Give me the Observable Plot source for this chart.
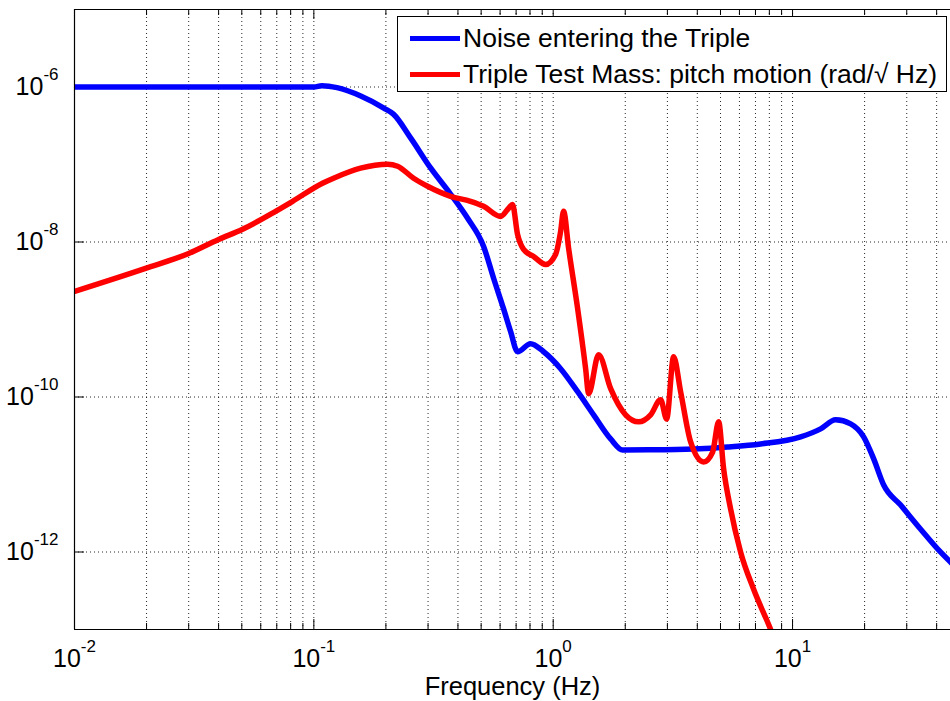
<!DOCTYPE html>
<html>
<head>
<meta charset="utf-8">
<script src="https://cdn.jsdelivr.net/npm/d3@7"></script>
<script src="https://cdn.jsdelivr.net/npm/@observablehq/plot@0.6"></script>
<style>
  html, body { margin: 0; padding: 0; background: #fff; }
  #wrap { position: relative; width: 950px; height: 701px; overflow: hidden; font-family: 'Liberation Sans', Arial, sans-serif; }
  #legend { position: absolute; left: 397px; top: 16px; width: 550px; height: 76px; border: 1px solid #000; background: #fff; box-sizing: border-box; }
  .row { position: absolute; left: 0; height: 36px; display: flex; align-items: center; font-size: 26.5px; color: #000; white-space: nowrap; }
  .swatch { display: inline-block; width: 50px; height: 5px; margin-left: 12px; margin-right: 3px; }
</style>
</head>
<body>
<div id="wrap">
  <div id="chart"></div>
  <div id="legend"></div>
</div>
<script>
// ---- data ----
const seriesNames = ["Noise entering the Triple", "Triple Test Mass: pitch motion (rad/\u221A Hz)"];
const seriesColors = ["#0000ff", "#ff0000"];

const blueFreq = [0.01, 0.1, 0.108, 0.125, 0.157, 0.196, 0.215, 0.254, 0.308, 0.373, 0.439, 0.512, 0.564, 0.620, 0.664, 0.710, 0.804, 0.912, 1.074, 1.265, 1.475, 1.738, 1.95, 2.5, 3.862, 5.355, 7.357, 10.81, 13.10, 15.14, 17.49, 19.82, 21.83, 24.03, 28.29, 34.30, 41.58, 46.67];
const blueAmp = [1.0e-6, 1.0e-6, 1.04e-6, 9.8e-7, 7.65e-7, 5.35e-7, 4.47e-7, 2.19e-7, 8.96e-8, 4.13e-8, 2.02e-8, 8.77e-9, 3.38e-9, 1.38e-9, 6.97e-10, 3.84e-10, 4.88e-10, 3.84e-10, 2.32e-10, 1.17e-10, 5.89e-11, 2.88e-11, 2.07e-11, 2.08e-11, 2.14e-11, 2.27e-11, 2.48e-11, 3.06e-11, 3.88e-11, 5.07e-11, 4.50e-11, 3.06e-11, 1.59e-11, 7.31e-12, 4.03e-12, 1.97e-12, 9.94e-13, 6.95e-13];

const redFreq = [0.01, 0.0198, 0.030, 0.040, 0.0504, 0.0692, 0.0815, 0.1087, 0.1209, 0.1567, 0.2032, 0.2238, 0.261, 0.2987, 0.3726, 0.4517, 0.5119, 0.603, 0.6512, 0.676, 0.7097, 0.7521, 0.8282, 0.9297, 1.023, 1.074, 1.105, 1.160, 1.265, 1.366, 1.406, 1.548, 1.738, 2.007, 2.275, 2.553, 2.811, 2.978, 3.185, 3.407, 3.752, 4.251, 4.636, 4.911, 5.153, 5.511, 6.069, 6.877, 8.100, 8.5];
const redAmp = [2.30e-9, 4.56e-9, 7.12e-9, 1.08e-8, 1.46e-8, 2.49e-8, 3.35e-8, 5.73e-8, 6.65e-8, 8.96e-8, 1.01e-7, 9.51e-8, 6.65e-8, 5.24e-8, 3.89e-8, 3.35e-8, 2.89e-8, 2.14e-8, 2.72e-8, 3.04e-8, 1.25e-8, 8.02e-9, 6.51e-9, 5.13e-9, 6.91e-9, 1.37e-8, 2.5e-8, 8.27e-9, 1.38e-9, 2.32e-10, 1.10e-10, 3.51e-10, 1.28e-10, 5.89e-11, 4.78e-11, 5.89e-11, 9.20e-11, 5.22e-11, 3.31e-10, 1.17e-10, 2.63e-11, 1.45e-11, 1.95e-11, 4.78e-11, 1.18e-11, 3.58e-12, 9.94e-13, 3.30e-13, 1.00e-13, 6.8e-14];

const xDomain = [0.01, 45.7];
const yDomain = [1e-13, 1e-5];
const xMajorTicks = [0.01, 0.1, 1, 10];
const xMinorTicks = [0.02, 0.03, 0.04, 0.05, 0.06, 0.07, 0.08, 0.09,
                     0.2, 0.3, 0.4, 0.5, 0.6, 0.7, 0.8, 0.9,
                     2, 3, 4, 5, 6, 7, 8, 9,
                     20, 30, 40];
const yMajorTicks = [1e-12, 1e-10, 1e-8, 1e-6];
const xLabel = "Frequency (Hz)";

// ---- build tables ----
const blueData = blueFreq.map((f, i) => ({f, v: blueAmp[i]}));
const redData = redFreq.map((f, i) => ({f, v: redAmp[i]}));
const xGridTicks = xMajorTicks.slice(1).concat(xMinorTicks);

const W = 950, H = 701, mL = 74, mR = 0, mT = 9, mB = 72;
const plotH = H - mT - mB, plotW = W - mL - mR;
const expFmt = d => "10^" + Math.round(Math.log10(d));
const gridStyle = {stroke: "#000", strokeOpacity: 0.85, strokeWidth: 1, strokeDasharray: "1,3"};

const chart = Plot.plot({
  width: W, height: H,
  marginLeft: mL, marginRight: mR, marginTop: mT, marginBottom: mB,
  style: {fontFamily: "'Liberation Sans', Arial, sans-serif", fontSize: "25px", background: "#fff", color: "#000"},
  x: {type: "log", domain: xDomain},
  y: {type: "log", domain: yDomain},
  marks: [
    Plot.ruleX(xGridTicks, gridStyle),
    Plot.ruleY(yMajorTicks, gridStyle),
    // inward ticks
    Plot.ruleX(xMinorTicks, {insetTop: plotH - 6, stroke: "#000"}),
    Plot.ruleX(xMinorTicks, {insetBottom: plotH - 6, stroke: "#000"}),
    Plot.ruleX(xMajorTicks, {insetTop: plotH - 10, stroke: "#000"}),
    Plot.ruleX(xMajorTicks, {insetBottom: plotH - 10, stroke: "#000"}),
    Plot.ruleY(yMajorTicks, {insetRight: plotW - 10, stroke: "#000"}),
    // series
    Plot.line(blueData, {x: "f", y: "v", stroke: seriesColors[0], strokeWidth: 5.5, clip: true, curve: "monotone-x", strokeLinejoin: "round"}),
    Plot.line(redData, {x: "f", y: "v", stroke: seriesColors[1], strokeWidth: 5.5, clip: true, curve: "monotone-x", strokeLinejoin: "round"}),
    // frame (top, bottom, left)
    Plot.ruleY(yDomain, {stroke: "#000", strokeWidth: 1.2}),
    Plot.ruleX([xDomain[0]], {stroke: "#000", strokeWidth: 1.2}),
    // axes
    Plot.axisX(xMajorTicks, {tickSize: 0, tickPadding: 20, tickFormat: expFmt, fontSize: 25, label: null}),
    Plot.axisY(yMajorTicks, {tickSize: 0, tickPadding: 16, tickFormat: expFmt, fontSize: 25, label: null}),
    Plot.text([xLabel], {text: d => d, frameAnchor: "bottom", dy: 65, fontSize: 25.5})
  ]
});

// superscript exponents in tick labels
chart.querySelectorAll('g[aria-label="x-axis tick label"] text, g[aria-label="y-axis tick label"] text').forEach(t => {
  const s = t.textContent;
  const m = s.match(/^10\^(-?\d+)$/);
  if (!m) return;
  t.textContent = "10";
  const sup = document.createElementNS("http://www.w3.org/2000/svg", "tspan");
  sup.setAttribute("dy", "-15");
  sup.setAttribute("font-size", "17");
  sup.textContent = m[1];
  t.appendChild(sup);
});

document.getElementById("chart").appendChild(chart);

// legend
const legend = document.getElementById("legend");
seriesNames.forEach((name, i) => {
  const row = document.createElement("div");
  row.className = "row";
  row.style.top = (3 + i * 36) + "px";
  const sw = document.createElement("span");
  sw.className = "swatch";
  sw.style.background = seriesColors[i];
  const label = document.createElement("span");
  label.textContent = name;
  row.appendChild(sw);
  row.appendChild(label);
  legend.appendChild(row);
});
</script>
</body>
</html>
